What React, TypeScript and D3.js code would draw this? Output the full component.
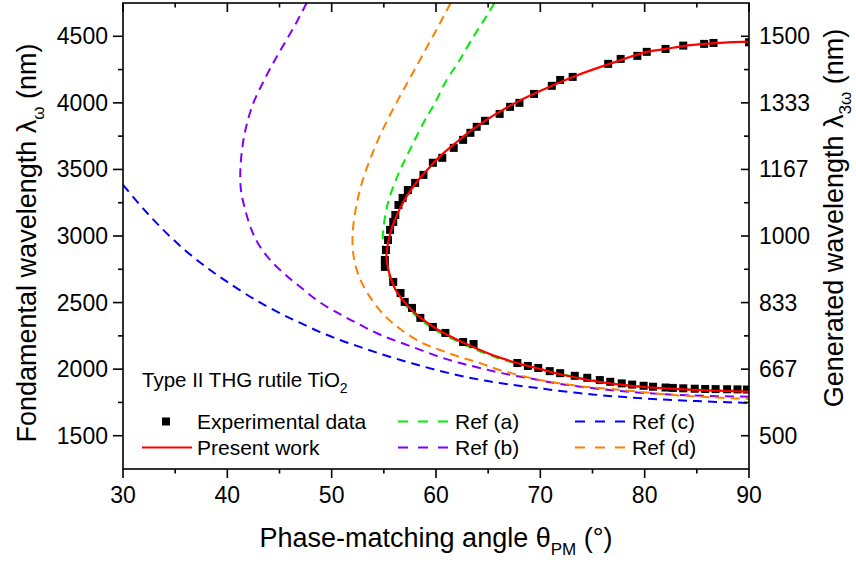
import React from 'react';
import * as d3 from 'd3';

const W = 856;
const H = 563;

// Axis settings
const xTicks = [30, 40, 50, 60, 70, 80, 90];
const yTicks = [1500, 2000, 2500, 3000, 3500, 4000, 4500];
const yRightLabels = ['500', '667', '833', '1000', '1167', '1333', '1500'];

// Experimental data (theta in deg, lambda in nm)
const expTheta = [
  89.8, 88.9, 87.9, 86.8, 85.8, 84.8, 83.7, 82.7, 82.0, 80.8, 79.9, 78.8, 77.8, 76.7, 75.7, 74.5, 73.3, 71.9, 70.9,
  69.8, 68.8, 67.8, 63.6, 62.6, 60.9, 59.7, 58.5, 57.7, 57.0, 56.6, 55.9,
  55.1, 55.1, 55.2, 55.4, 55.6, 55.9, 56.1, 56.4, 56.8, 57.3, 58.0, 58.8, 59.7, 60.6, 61.7, 62.6, 63.3, 63.9, 64.7,
  66.1, 67.1, 68.0, 69.4, 71.1, 71.9, 73.1, 76.5, 77.7, 79.3, 80.2, 82.0, 83.7, 85.7, 86.6, 90.0,
];
const expLambda = [
  1847, 1848, 1849, 1850, 1851, 1853, 1856, 1859, 1862, 1868, 1875, 1884, 1893, 1905, 1918, 1935, 1950, 1970, 1985,
  2009, 2024, 2046, 2189, 2204, 2272, 2317, 2385, 2460, 2505, 2572, 2655,
  2768, 2820, 2895, 2970, 3046, 3106, 3158, 3233, 3286, 3345, 3399, 3459, 3550, 3587, 3662, 3722, 3775, 3820, 3865,
  3917, 3970, 4000, 4067, 4128, 4172, 4195, 4293, 4330, 4353, 4383, 4405, 4430, 4443, 4450, 4455,
];

// Present work (fit)
const presentTheta = [
  90, 86, 83.3, 80, 77, 74.5, 72, 70, 67.6, 65.6, 62.6, 60.1, 58.3, 57.0, 56.1, 55.6, 55.3, 55.25, 55.3, 55.55,
  55.95, 56.5, 57.2, 58.1, 59.2, 60.4, 61.9, 63.5, 65.4, 67.6, 70.3, 73.3, 76.9, 80.2, 82.0, 84.0, 85.7, 88.0, 90,
];
const presentLambda = [
  1831, 1840, 1850, 1866, 1890, 1920, 1960, 2000, 2050, 2100, 2200, 2300, 2400, 2500, 2600, 2700, 2800, 2850, 2900, 3000,
  3100, 3200, 3300, 3400, 3500, 3600, 3700, 3800, 3900, 4000, 4100, 4200, 4300, 4383, 4405, 4430, 4443, 4455, 4460,
];

// Ref (a) green
const refATheta = [
  65.6, 64.9, 63.3, 62.1, 61.0, 59.9, 58.8, 57.2, 56.3, 55.4, 54.95, 54.9, 55.0, 55.3, 55.8, 56.9, 58.1, 59.8, 62.3,
  65.3, 69.8, 72.8, 76.3, 79.5, 83.0, 90,
];
const refALambda = [
  4750, 4660, 4460, 4300, 4170, 4000, 3850, 3600, 3450, 3250, 3050, 2950, 2850, 2750, 2650, 2500, 2400, 2300, 2200,
  2100, 2000, 1950, 1900, 1870, 1850, 1838,
];

// Ref (b) purple
const refBTheta = [
  47.6, 46.6, 45.5, 44.4, 43.4, 42.5, 41.9, 41.5, 41.25, 41.3, 41.7, 42.3, 42.9, 44.1, 45.7, 47.0, 48.9, 51.1, 52.8,
  54.6, 56.6, 58.5, 60.4, 62.3, 64.2, 66.3, 69.1, 71.9, 77.6, 83.4, 90,
];
const refBLambda = [
  4750, 4600, 4450, 4300, 4150, 4000, 3850, 3700, 3500, 3350, 3200, 3050, 2950, 2820, 2700, 2617, 2500, 2400, 2330,
  2260, 2200, 2145, 2090, 2046, 2009, 1970, 1929, 1889, 1836, 1806, 1793,
];

// Ref (c) blue
const refCTheta = [
  30, 32, 34, 36, 38, 40, 42.8, 45.3, 47.0, 48.9, 50.8, 52.7, 54.6, 56.6, 58.5, 60.4, 62.3, 64.2, 66.1, 70, 75, 80,
  85, 90,
];
const refCLambda = [
  3384, 3200, 3035, 2890, 2765, 2655, 2515, 2410, 2347, 2278, 2219, 2167, 2117, 2069, 2026, 1986, 1951, 1921, 1896,
  1855, 1810, 1780, 1760, 1746,
];

// Ref (d) orange
const refDTheta = [
  61.4, 60.3, 59.0, 57.6, 56.2, 54.9, 53.8, 52.9, 52.3, 52.0, 52.1, 52.6, 53.6, 55.1, 56.6, 58.5, 60.4, 62.3, 64.2,
  66.1, 70, 74, 77.6, 81, 84.6, 90,
];
const refDLambda = [
  4750, 4586, 4400, 4200, 4000, 3800, 3600, 3400, 3200, 3000, 2850, 2700, 2550, 2400, 2300, 2204, 2144, 2091, 2046,
  1994, 1919, 1870, 1845, 1818, 1796, 1776,
];

const FONT = "'Liberation Sans', Arial, Helvetica, sans-serif";

const zip = (a: number[], b: number[]): [number, number][] => a.map((v, i) => [v, b[i]]);

export default function App() {
  const x = d3.scaleLinear().domain([30, 90]).range([123, 749]);
  const y = d3.scaleLinear().domain([1250, 4750]).range([469, 3]);
  const line = d3
    .line<[number, number]>()
    .x((d) => x(d[0]))
    .y((d) => y(d[1]))
    .curve(d3.curveCatmullRom.alpha(0.5));

  const x0 = x(30), x1 = x(90), y0 = y(1250), y1 = y(4750);
  const xMinor = d3.range(35, 90, 10);
  const yMinor = d3.range(1750, 4750, 500);

  const refs = [
    { t: refATheta, l: refALambda, c: '#00ee00' },
    { t: refBTheta, l: refBLambda, c: '#8000ff' },
    { t: refCTheta, l: refCLambda, c: '#0000ff' },
    { t: refDTheta, l: refDLambda, c: '#ff8000' },
  ];
  const dash = '9,6';

  return (
    <svg width={W} height={H} style={{ position: 'absolute', left: 0, top: 0, background: '#fff' }} fontFamily={FONT}>
      <defs>
        <clipPath id="plot">
          <rect x={x0} y={y1} width={x1 - x0} height={y0 - y1} />
        </clipPath>
      </defs>
      <g clipPath="url(#plot)">
        {refs.map((r, i) => (
          <path key={i} d={line(zip(r.t, r.l)) || ''} fill="none" stroke={r.c} strokeWidth={2} strokeDasharray={dash} />
        ))}
        {expTheta.map((t, i) => (
          <rect key={i} x={x(t) - 4} y={y(expLambda[i]) - 4} width={8} height={8} fill="#000" />
        ))}
        <path d={line(zip(presentTheta, presentLambda)) || ''} fill="none" stroke="#ff0000" strokeWidth={2.2} />
      </g>

      {/* frame */}
      <rect x={x0} y={y1} width={x1 - x0} height={y0 - y1} fill="none" stroke="#000" strokeWidth={1.6} />

      {/* bottom axis */}
      {xTicks.map((t) => (
        <g key={'bx' + t}>
          <line x1={x(t)} x2={x(t)} y1={y0} y2={y0 + 9} stroke="#000" strokeWidth={1.6} />
          <line x1={x(t)} x2={x(t)} y1={y1} y2={y1 + 9} stroke="#000" strokeWidth={1.6} />
          <text x={x(t)} y={503} textAnchor="middle" fontSize={23} fill="#000">
            {t}
          </text>
        </g>
      ))}
      {xMinor.map((t) => (
        <g key={'bm' + t}>
          <line x1={x(t)} x2={x(t)} y1={y0} y2={y0 + 4.5} stroke="#000" strokeWidth={1.6} />
          <line x1={x(t)} x2={x(t)} y1={y1} y2={y1 + 4.5} stroke="#000" strokeWidth={1.6} />
        </g>
      ))}

      {/* left and right axis */}
      {yTicks.map((t, i) => (
        <g key={'ly' + t}>
          <line x1={x0 - 10} x2={x0} y1={y(t)} y2={y(t)} stroke="#000" strokeWidth={1.6} />
          <line x1={x1 - 8} x2={x1} y1={y(t)} y2={y(t)} stroke="#000" strokeWidth={1.6} />
          <text x={108} y={y(t) + 8} textAnchor="end" fontSize={23} fill="#000">
            {t}
          </text>
          <text x={759} y={y(t) + 8} textAnchor="start" fontSize={23} fill="#000">
            {yRightLabels[i]}
          </text>
        </g>
      ))}
      {yMinor.map((t) => (
        <g key={'lm' + t}>
          <line x1={x0 - 5} x2={x0} y1={y(t)} y2={y(t)} stroke="#000" strokeWidth={1.6} />
          <line x1={x1 - 5} x2={x1} y1={y(t)} y2={y(t)} stroke="#000" strokeWidth={1.6} />
        </g>
      ))}

      {/* axis titles */}
      <text x={436} y={547} textAnchor="middle" fontSize={27} fill="#000">
        Phase-matching angle θ
        <tspan fontSize={17} dy={8}>PM</tspan>
        <tspan dy={-8}> (°)</tspan>
      </text>
      <text transform="translate(36,243) rotate(-90)" textAnchor="middle" fontSize={27} fill="#000">
        Fondamental wavelength λ
        <tspan fontSize={17} dy={8}>ω</tspan>
        <tspan dy={-8}>  (nm)</tspan>
      </text>
      <text transform="translate(843,218) rotate(-90)" textAnchor="middle" fontSize={27} fill="#000">
        Generated wavelength λ
        <tspan fontSize={17} dy={8}>3ω</tspan>
        <tspan dy={-8}> (nm)</tspan>
      </text>

      {/* legend */}
      <text x={142} y={387} fontSize={20.5} fill="#000">
        Type II THG rutile TiO
        <tspan fontSize={14} dy={6}>2</tspan>
      </text>
      <rect x={162} y={417.5} width={8} height={8} fill="#000" />
      <text x={197} y={429} fontSize={21} fill="#000">Experimental data</text>
      <line x1={142} x2={192} y1={447.5} y2={447.5} stroke="#ff0000" strokeWidth={2.2} />
      <text x={197} y={455} fontSize={21} fill="#000">Present work</text>

      <line x1={398} x2={448} y1={421.5} y2={421.5} stroke="#00ee00" strokeWidth={2} strokeDasharray="10,10" />
      <text x={455} y={429} fontSize={21} fill="#000">Ref (a)</text>
      <line x1={398} x2={448} y1={447.5} y2={447.5} stroke="#8000ff" strokeWidth={2} strokeDasharray="10,10" />
      <text x={455} y={455} fontSize={21} fill="#000">Ref (b)</text>

      <line x1={575} x2={625} y1={421.5} y2={421.5} stroke="#0000ff" strokeWidth={2} strokeDasharray="10,10" />
      <text x={632} y={429} fontSize={21} fill="#000">Ref (c)</text>
      <line x1={575} x2={625} y1={447.5} y2={447.5} stroke="#ff8000" strokeWidth={2} strokeDasharray="10,10" />
      <text x={632} y={455} fontSize={21} fill="#000">Ref (d)</text>
    </svg>
  );
}
